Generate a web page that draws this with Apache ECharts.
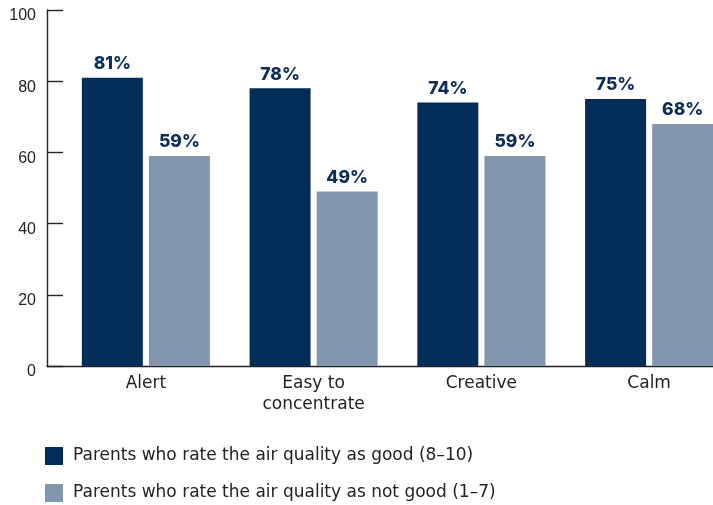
<!DOCTYPE html>
<html>
<head>
<meta charset="utf-8">
<script src="https://cdn.jsdelivr.net/npm/echarts@6/dist/echarts.min.js"></script>
<style>
  html, body { margin: 0; padding: 0; background: #fff; }
  #chart { width: 713px; height: 505px; }
</style>
</head>
<body>
<div id="chart"></div>
<script>
// Feelings reported for children, split by how parents rate the air quality
const categories = ['Alert', 'Easy to\nconcentrate', 'Creative', 'Calm'];
const goodAir = [81, 78, 74, 75];
const notGoodAir = [59, 49, 59, 68];
const seriesNames = [
  'Parents who rate the air quality as good (8–10)',
  'Parents who rate the air quality as not good (1–7)'
];
const yTicks = { min: 0, max: 100, interval: 20 };

const FONT = '"DejaVu Sans", sans-serif';
const NUM_FONT = '"Liberation Sans", Arial, sans-serif';
const BOLD_FONT = 'Inter, "Noto Sans", sans-serif';
const DARK = '#022d59';
const LIGHT = '#8297ad';
const AXIS = '#222';

const chart = echarts.init(document.getElementById('chart'));

const barLabel = {
  show: true,
  position: 'top',
  distance: 5,
  formatter: '{c}%',
  color: '#0b2d59',
  fontFamily: BOLD_FONT,
  fontWeight: 800,
  fontSize: 17.5
};

const legendBase = {
  left: 45,
  padding: 0,
  icon: 'rect',
  itemWidth: 18,
  itemHeight: 18,
  textStyle: { color: AXIS, fontSize: 17, fontFamily: FONT, padding: [0, 0, 0, 5] }
};

chart.setOption({
  animation: false,
  textStyle: { fontFamily: FONT },
  grid: [
    // bar area (its last band runs past the right edge)
    { left: 62, width: 671, top: 10, height: 356, outerBoundsMode: 'none' },
    // frame carrying the visible axes
    { left: 47, width: 666, top: 10, height: 356, outerBoundsMode: 'none' }
  ],
  legend: [
    Object.assign({}, legendBase, { top: 447, data: [seriesNames[0]] }),
    Object.assign({}, legendBase, { top: 484, data: [seriesNames[1]] })
  ],
  xAxis: [
    {
      gridIndex: 0,
      type: 'category',
      data: categories,
      axisLine: { show: false },
      axisTick: { show: false },
      axisLabel: { color: AXIS, fontSize: 17, margin: 7, lineHeight: 21, fontFamily: FONT }
    },
    {
      gridIndex: 1,
      type: 'value',
      min: 0,
      max: 1,
      axisLine: { show: true, lineStyle: { color: AXIS, width: 1.4 } },
      axisTick: { show: false },
      axisLabel: { show: false },
      splitLine: { show: false }
    }
  ],
  yAxis: [
    {
      gridIndex: 0,
      type: 'value',
      min: yTicks.min,
      max: yTicks.max,
      interval: yTicks.interval,
      show: false
    },
    {
      gridIndex: 1,
      type: 'value',
      min: yTicks.min,
      max: yTicks.max,
      interval: yTicks.interval,
      axisLine: { show: true, lineStyle: { color: AXIS, width: 1.4 } },
      axisTick: { show: true, inside: true, length: 16, lineStyle: { color: AXIS, width: 1.4 } },
      axisLabel: {
        color: AXIS,
        fontSize: 16,
        margin: 11,
        verticalAlign: 'top',
        lineHeight: 12,
        fontFamily: NUM_FONT
      },
      splitLine: { show: false }
    }
  ],
  series: [
    {
      name: seriesNames[0],
      type: 'bar',
      xAxisIndex: 0,
      yAxisIndex: 0,
      data: goodAir,
      barWidth: 61,
      barGap: '10%',
      itemStyle: { color: DARK },
      label: barLabel
    },
    {
      name: seriesNames[1],
      type: 'bar',
      xAxisIndex: 0,
      yAxisIndex: 0,
      data: notGoodAir,
      barWidth: 61,
      barGap: '10%',
      itemStyle: { color: LIGHT },
      label: barLabel
    }
  ]
});
</script>
</body>
</html>
